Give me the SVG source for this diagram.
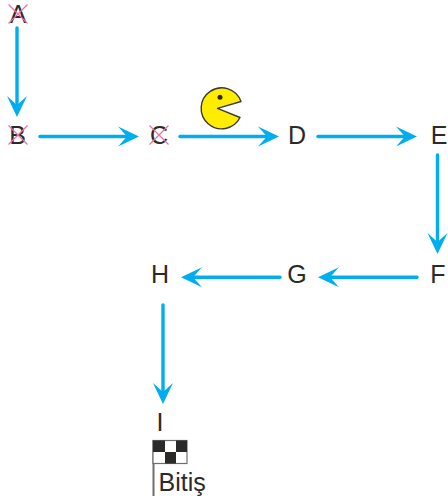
<svg xmlns="http://www.w3.org/2000/svg" width="448" height="501" viewBox="0 0 448 501">
<style>
.l{font-family:"Liberation Sans",Arial,sans-serif;font-size:25px;fill:#2b2a29;text-anchor:middle}
.c{stroke:#00aeef;stroke-width:3.400;fill:none;stroke-linecap:round}
.h{fill:#00aeef}
.x{stroke:#ec6fa8;stroke-width:1.200;fill:none}
</style>
<defs>
<path id="ah" class="h" d="M0 0L-21 -10L-12 0L-21 10Z"/>
<path id="xm" class="x" d="M-9.500 -9.500L9.500 9.500M9.500 -9.500L-9.500 9.500"/>
</defs>
<rect width="448" height="501" fill="#fff"/>
<g id="connectors">
<path class="c" d="M17 28V106"/><use href="#ah" transform="translate(17 117) rotate(90)"/>
<path class="c" d="M40 136.500H128"/><use href="#ah" transform="translate(139 136.500)"/>
<path class="c" d="M180 136.500H268"/><use href="#ah" transform="translate(279 136.500)"/>
<path class="c" d="M318 136.500H406"/><use href="#ah" transform="translate(417 136.500)"/>
<path class="c" d="M437.500 155V243"/><use href="#ah" transform="translate(437.500 254) rotate(90)"/>
<path class="c" d="M417 277.300H329"/><use href="#ah" transform="translate(318 277.300) rotate(180)"/>
<path class="c" d="M280 277.300H192"/><use href="#ah" transform="translate(181 277.300) rotate(180)"/>
<path class="c" d="M163 305V393"/><use href="#ah" transform="translate(163 404) rotate(90)"/>
</g>
<g id="node-a"><text class="l" x="18" y="23">A</text><use href="#xm" transform="translate(18 14)"/></g>
<g id="node-b"><text class="l" x="17.500" y="144">B</text><use href="#xm" transform="translate(18 135)"/></g>
<g id="node-c"><text class="l" x="159" y="144">C</text><use href="#xm" transform="translate(159 135)"/></g>
<g id="node-d"><text class="l" x="297" y="144">D</text></g>
<g id="node-e"><text class="l" x="439" y="144">E</text></g>
<g id="node-f"><text class="l" x="438" y="283">F</text></g>
<g id="node-g"><text class="l" x="297" y="283">G</text></g>
<g id="node-h"><text class="l" x="160" y="283">H</text></g>
<g id="node-i"><text class="l" x="160" y="431">I</text></g>
<g id="pacman">
<path d="M241 101.500A20.500 20.500 0 1 0 240 117.500L217.500 108.300Z" fill="#ffed00" stroke="#3a3a3a" stroke-width="1.400" stroke-linejoin="round"/>
<circle cx="220" cy="97.300" r="2.500" fill="#2b2a29"/>
</g>
<g id="finish-flag">
<path d="M153.500 440V496" stroke="#6d6e71" stroke-width="2" fill="none"/>
<rect x="153" y="440.500" width="34" height="23" fill="#fff" stroke="#6d6e71" stroke-width="1.200"/>
<path d="M153 440.500H165V452H153ZM176 440.500H187V452H176ZM165 452H176V463.500H165Z" fill="#2b2a29"/>
<text x="158.500" y="491" font-family="Liberation Sans,Arial,sans-serif" font-size="25" fill="#2b2a29">Bitiş</text>
</g>
</svg>
